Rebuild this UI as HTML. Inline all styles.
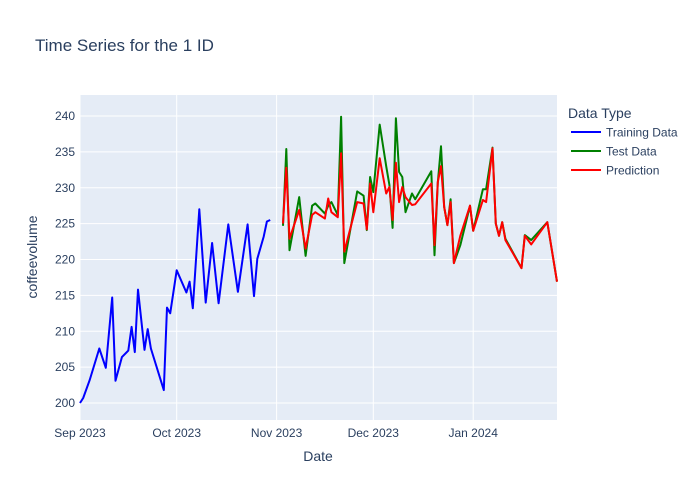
<!DOCTYPE html>
<html><head><meta charset="utf-8">
<style>
body{margin:0;background:#fff;}
svg{display:block;font-family:"Liberation Sans",sans-serif;}
</style></head>
<body>
<svg id="chart" width="700" height="500" viewBox="0 0 700 500">
  <rect x="0" y="0" width="700" height="500" fill="#fff"/>
  <text x="35" y="51" font-size="17" fill="#2a3f5f">Time Series for the 1 ID</text>
  <rect x="80" y="95" width="477" height="325" fill="#e5ecf6"/>
  <g id="grid"></g>
  <g id="series"></g>
  <g id="ticks"></g>
  <text x="318" y="461" font-size="14" fill="#2a3f5f" text-anchor="middle">Date</text>
  <text transform="translate(37,257) rotate(-90)" font-size="14" fill="#2a3f5f" text-anchor="middle">coffeevolume</text>
  <g>
    <text x="568" y="118" font-size="14" fill="#2a3f5f">Data Type</text>
    <g>
      <line x1="571" y1="132" x2="601" y2="132" stroke="#0000ff" stroke-width="2"/>
      <text x="606" y="136.5" font-size="12" fill="#2a3f5f">Training Data</text>
    </g>
    <g>
      <line x1="571" y1="151" x2="601" y2="151" stroke="#008000" stroke-width="2"/>
      <text x="606" y="155.5" font-size="12" fill="#2a3f5f">Test Data</text>
    </g>
    <g>
      <line x1="571" y1="170" x2="601" y2="170" stroke="#ff0000" stroke-width="2"/>
      <text x="606" y="174.5" font-size="12" fill="#2a3f5f">Prediction</text>
    </g>
  </g>
</svg>
<script>
// days since 2023-09-01
const trainDays = [0,1,3,6,8,10,11,13,15,16,17,18,20,21,22,26,27,28,30,33,34,35,37,39,41,43,46,49,52,54,55,57,58,59];
const trainValues = [200.0,200.7,203.2,207.6,204.9,214.7,203.1,206.4,207.3,210.6,207.1,215.8,207.4,210.3,207.6,201.8,213.3,212.5,218.5,215.4,216.9,213.2,227.0,214.0,222.3,213.9,224.9,215.5,224.9,214.9,220.1,223.2,225.3,225.5];
const testDays = [63,64,65,68,70,72,73,76,77,78,80,81,82,86,88,89,90,91,93,95,96,97,98,99,100,101,103,104,109,110,111,112,113,114,115,116,118,121,122,125,126,128,129,130,131,132,137,138,140,145,148];
const testValues = [224.7,235.4,221.3,228.7,220.5,227.5,227.8,226.4,227.5,228.0,226.2,239.9,219.5,229.5,228.9,224.1,231.5,229.4,238.8,233.0,230.4,224.4,239.7,232.2,231.5,226.6,229.2,228.4,232.3,220.6,230.7,235.8,227.3,224.8,228.4,219.5,222.0,227.5,224.0,229.8,229.8,235.6,225.0,223.3,225.2,222.9,218.8,223.4,222.7,225.2,216.9];
const predValues = [225.0,232.8,222.9,226.9,221.5,226.2,226.6,225.7,228.5,226.6,225.9,234.8,221.1,228.0,227.8,224.2,230.6,226.6,234.1,229.2,230.1,225.5,233.5,228.0,230.1,228.7,227.6,227.7,230.6,222.0,230.8,233.0,227.3,224.8,228.0,219.5,223.3,227.5,224.0,228.3,228.0,235.5,225.0,223.3,225.2,222.7,218.8,223.3,222.1,225.2,216.9];
const yTicks = [200,205,210,215,220,225,230,235,240];
const xTickDays = [0,30,61,91,122];
const xTickLabels = ["Sep 2023","Oct 2023","Nov 2023","Dec 2023","Jan 2024"];

const NS = "http://www.w3.org/2000/svg";
const X0 = 80, X1 = 557, Y0 = 95, Y1 = 420;
const dMin = 0, dMax = 148, vMin = 197.63, vMax = 242.93;
function xs(d){ return X0 + (d - dMin) / (dMax - dMin) * (X1 - X0); }
function ys(v){ return Y1 - (v - vMin) / (vMax - vMin) * (Y1 - Y0); }
function mk(tag, attrs, parent){
  const el = document.createElementNS(NS, tag);
  for (const k in attrs) el.setAttribute(k, attrs[k]);
  parent.appendChild(el);
  return el;
}
const grid = document.getElementById('grid');
const ticks = document.getElementById('ticks');
const series = document.getElementById('series');
yTicks.forEach(v => {
  const y = ys(v);
  const g = mk('line', {x1:X0, x2:X1, y1:y, y2:y, stroke:'#fff', 'stroke-width':1}, grid);
  
  
  const t = mk('text', {x:X0-5, y:y+4, 'font-size':12, fill:'#2a3f5f', 'text-anchor':'end'}, ticks);
  t.textContent = v;
  
  
});
xTickDays.forEach((d, i) => {
  const x = xs(d);
  const g = mk('line', {x1:x, x2:x, y1:Y0, y2:Y1, stroke:'#fff', 'stroke-width':1}, grid);
  
  
  const t = mk('text', {x:x, y:Y1+17, 'font-size':12, fill:'#2a3f5f', 'text-anchor':'middle'}, ticks);
  t.textContent = xTickLabels[i];
  
  
});
function line(days, vals, color, name){
  const pts = days.map((d, i) => xs(d).toFixed(1) + ',' + ys(vals[i]).toFixed(1)).join(' ');
  const p = mk('polyline', {points:pts, fill:'none', stroke:color, 'stroke-width':2, 'stroke-linejoin':'round'}, series);
  
  
}
line(trainDays, trainValues, '#0000ff', 'training-data-line');
line(testDays, testValues, '#008000', 'test-data-line');
line(testDays, predValues, '#ff0000', 'prediction-line');
</script>
</body></html>
